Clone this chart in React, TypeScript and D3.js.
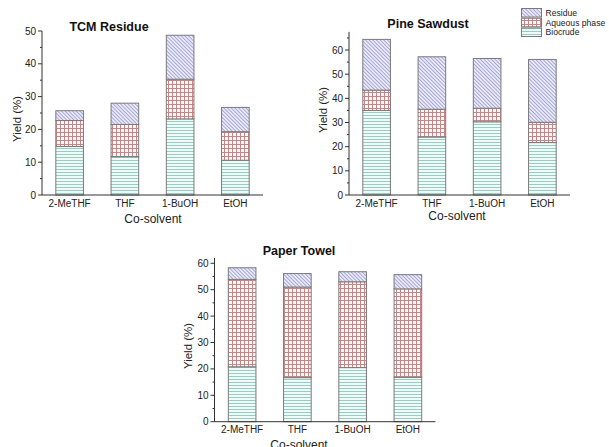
import React from "react";
import * as d3 from "d3";

const categories = ["2-MeTHF", "THF", "1-BuOH", "EtOH"];
const seriesKeys = ["biocrude", "aqueous", "residue"];
const legendLabels = ["Residue", "Aqueous phase", "Biocrude"];

const tcmBiocrude = [14.8, 11.7, 23.2, 10.6];
const tcmAqueous = [7.9, 9.8, 12.1, 8.7];
const tcmResidue = [3.0, 6.5, 13.4, 7.4];

const pineBiocrude = [35.0, 24.0, 30.3, 21.7];
const pineAqueous = [8.4, 11.5, 5.6, 8.4];
const pineResidue = [21.0, 21.7, 20.6, 26.0];

const paperBiocrude = [20.8, 16.7, 20.5, 16.8];
const paperAqueous = [33.1, 34.3, 32.5, 33.5];
const paperResidue = [4.4, 5.1, 3.8, 5.4];

const yTicksTCM = [0, 10, 20, 30, 40, 50];
const yTicksPine = [0, 10, 20, 30, 40, 50, 60];
const yTicksPaper = [0, 10, 20, 30, 40, 50, 60];

const FONT = "'Liberation Sans', Arial, Helvetica, sans-serif";
const fills: Record<string, string> = {
  biocrude: "url(#patBio)",
  aqueous: "url(#patAq)",
  residue: "url(#patRes)",
};

type PanelDef = {
  title: string;
  bio: number[];
  aq: number[];
  res: number[];
  ticks: number[];
  yMax: number;
  x0: number;
  x1: number;
  yBottom: number;
  yTop: number;
  titleX: number;
  titleY: number;
  ylabX: number;
  ylabY: number;
  xlabX: number;
  xlabY: number;
};

const panels: PanelDef[] = [
  {
    title: "TCM Residue", bio: tcmBiocrude, aq: tcmAqueous, res: tcmResidue, ticks: yTicksTCM,
    yMax: 50, x0: 42, x1: 263, yBottom: 195, yTop: 31,
    titleX: 109, titleY: 27, ylabX: 17, ylabY: 119, xlabX: 153, xlabY: 219,
  },
  {
    title: "Pine Sawdust", bio: pineBiocrude, aq: pineAqueous, res: pineResidue, ticks: yTicksPine,
    yMax: 67.5, x0: 349, x1: 570, yBottom: 195, yTop: 31.9,
    titleX: 428, titleY: 24, ylabX: 323, ylabY: 110, xlabX: 457, xlabY: 216,
  },
  {
    title: "Paper Towel", bio: paperBiocrude, aq: paperAqueous, res: paperResidue, ticks: yTicksPaper,
    yMax: 62, x0: 214.5, x1: 435.5, yBottom: 421.7, yTop: 258,
    titleX: 299, titleY: 251, ylabX: 188, ylabY: 346, xlabX: 299, xlabY: 445,
  },
];

function Panel({ p }: { p: PanelDef }) {
  const x = d3.scaleBand<string>().domain(categories).range([p.x0, p.x1]).paddingInner(0.5).paddingOuter(0.25);
  const y = d3.scaleLinear().domain([0, p.yMax]).range([p.yBottom, p.yTop]);
  const rows = categories.map((c, i) => ({ cat: c, biocrude: p.bio[i], aqueous: p.aq[i], residue: p.res[i] }));
  const stack = d3.stack<any>().keys(seriesKeys)(rows);
  const minor: number[] = [];
  for (let v = 5; v <= p.yMax; v += 10) minor.push(v);
  return (
    <g>
      {stack.map((s) =>
        s.map((d, i) => (
          <rect
            key={s.key + i}
            x={x(categories[i])}
            y={y(d[1])}
            width={x.bandwidth()}
            height={y(d[0]) - y(d[1])}
            fill={fills[s.key]}
            stroke="#7a7a7a"
            strokeWidth={1}
          />
        ))
      )}
      <line x1={p.x0} x2={p.x0} y1={p.yTop} y2={p.yBottom} stroke="#333" strokeWidth={1} />
      <line x1={p.x0} x2={p.x1} y1={p.yBottom} y2={p.yBottom} stroke="#333" strokeWidth={1} />
      {p.ticks.map((t) => (
        <g key={t}>
          <line x1={p.x0 - 4} x2={p.x0} y1={y(t)} y2={y(t)} stroke="#333" />
          <text x={p.x0 - 6} y={y(t)} dy="0.35em" textAnchor="end" fontSize={10} fontFamily={FONT} fill="#222">
            {t}
          </text>
        </g>
      ))}
      {minor.map((t) => (
        <line key={"m" + t} x1={p.x0 - 2} x2={p.x0} y1={y(t)} y2={y(t)} stroke="#333" />
      ))}
      {categories.map((c) => (
        <text key={c} x={(x(c) as number) + x.bandwidth() / 2} y={p.yBottom + 8} dy="0.35em" textAnchor="middle" fontSize={10} fontFamily={FONT} fill="#222">
          {c}
        </text>
      ))}
      <text x={p.titleX} y={p.titleY} dy="0.35em" textAnchor="middle" fontSize={12.5} fontWeight="bold" fontFamily={FONT} fill="#111">
        {p.title}
      </text>
      <text transform={`translate(${p.ylabX},${p.ylabY}) rotate(-90)`} dy="0.35em" textAnchor="middle" fontSize={11.5} fontFamily={FONT} fill="#222">
        Yield (%)
      </text>
      <text x={p.xlabX} y={p.xlabY} dy="0.35em" textAnchor="middle" fontSize={12} fontFamily={FONT} fill="#222">
        Co-solvent
      </text>
    </g>
  );
}

export default function App() {
  const legendY = d3.scaleBand<string>().domain(legendLabels).range([8.5, 36.5]).paddingInner(0.12);
  const legendFill = ["url(#patRes)", "url(#patAq)", "url(#patBio)"];
  return (
    <svg width={609} height={447} style={{ position: "absolute", left: 0, top: 0, background: "#fff" }}>
      <defs>
        <pattern id="patBio" patternUnits="userSpaceOnUse" width={6} height={3}>
          <rect width={6} height={3} fill="#f2faf8" />
          <line x1={0} x2={6} y1={1.5} y2={1.5} stroke="#93cfc5" strokeWidth={1} />
        </pattern>
        <pattern id="patAq" patternUnits="userSpaceOnUse" width={4} height={4}>
          <rect width={4} height={4} fill="#fefafa" />
          <line x1={0} x2={4} y1={0.5} y2={0.5} stroke="#c98585" strokeWidth={1} />
          <line x1={0.5} x2={0.5} y1={0} y2={4} stroke="#c98585" strokeWidth={1} />
        </pattern>
        <pattern id="patRes" patternUnits="userSpaceOnUse" width={2.6} height={2.6} patternTransform="rotate(-45)">
          <rect width={2.6} height={2.6} fill="#eeeef9" />
          <line x1={1.3} x2={1.3} y1={0} y2={2.6} stroke="#a3a3d6" strokeWidth={1} />
        </pattern>
      </defs>
      <rect width={609} height={447} fill="#fff" />
      {panels.map((p) => (
        <Panel key={p.title} p={p} />
      ))}
      {legendLabels.map((l, i) => (
        <g key={l}>
          <rect x={521.5} y={legendY(l)} width={20} height={legendY.bandwidth()} fill={legendFill[i]} stroke="#7a7a7a" />
          <text
            x={545.5}
            y={(legendY(l) as number) + legendY.bandwidth() / 2}
            dy="0.35em"
            fontSize={8.6}
            fontFamily={FONT}
            fill="#222"
          >
            {l}
          </text>
        </g>
      ))}
    </svg>
  );
}
